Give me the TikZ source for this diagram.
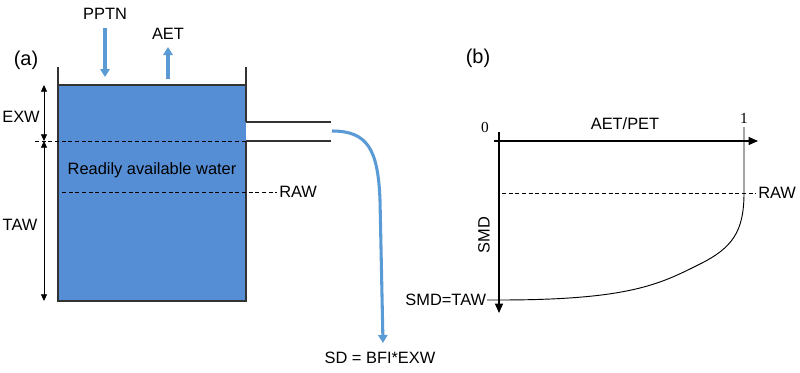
\documentclass[tikz,border=0pt]{standalone}
\usepackage{fontspec}
\setmainfont{Liberation Sans}
\newfontfamily\NumFont{Liberation Serif}
\usetikzlibrary{arrows.meta, positioning}
\definecolor{TankBlue}{HTML}{558ED5}
\definecolor{FlowBlue}{HTML}{5B9BD5}
\definecolor{EdgeGray}{HTML}{333333}
\newcommand{\LabelFont}{\fontsize{12.3pt}{14pt}\selectfont}
\newcommand{\PanelFont}{\fontsize{15pt}{17pt}\selectfont}

\begin{document}
\begin{tikzpicture}[x=0.75pt, y=-0.75pt, font=\LabelFont,
  flow/.style={FlowBlue, line width=2.3pt, -{Triangle[width=7pt,length=6pt]}},
  wall/.style={EdgeGray, line width=0.9pt},
  level/.style={black, line width=0.6pt, dash pattern=on 3pt off 2pt},
  dimline/.style={black, line width=0.6pt, {Triangle[width=4.5pt,length=5pt]}-{Triangle[width=4.5pt,length=5pt]}},
  axis/.style={black, line width=0.8pt, -{Triangle[width=6pt,length=7pt]}}]
  \useasboundingbox (0,0) rectangle (800,372);

  % (a) bucket
  \fill[TankBlue] (58,85) rectangle (246,301);
  \draw[wall] (58,67) -- (58,301) -- (246,301) -- (246,141);
  \draw[wall] (58,85) -- (246,85);
  \draw[wall] (246,122) -- (246,67);
  \node[font=\PanelFont] (lblA) at (26,60) {(a)};

  % inflow and outflow at the top
  \node (pptn) at (105,14) {PPTN};
  \coordinate (pptnS) at (105,28);
  \coordinate (pptnE) at (105,77);
  \draw[flow] (pptnS) -- (pptnE);
  \node (aet) at (168,34) {AET};
  \coordinate (aetS) at (168,79);
  \coordinate (aetE) at (168,47);
  \draw[flow] (aetS) -- (aetE);

  % outlet pipe
  \coordinate (pipeT) at (246,122);
  \coordinate (pipeB) at (246,141);
  \draw[wall] (pipeT) -- ++(85,0);
  \draw[wall] (pipeB) -- ++(85,0);
  \coordinate (spout) at (332,131);
  \coordinate (bend) at (380,200);
  \coordinate (sdEnd) at (383,343);
  \draw[flow] (spout) .. controls (368,131) and (378,150) .. (bend) -- (sdEnd);
  \node (sd) at (380,358) {SD = BFI*EXW};

  % levels
  \coordinate (exwL) at (35,141);
  \draw[level] (exwL) -- (pipeB);
  \coordinate (rawL) at (62,192);
  \coordinate (rawR) at (277,192);
  \draw[level] (rawL) -- (rawR);
  \node[anchor=west, inner sep=1.5pt] (rawA) at (rawR) {RAW};
  \node (water) at (152,170) {Readily available water};

  % depth markers
  \coordinate (dTop) at (44,85);
  \coordinate (dMid) at (44,141);
  \coordinate (dBot) at (44,301);
  \draw[dimline] (dTop) -- (dMid);
  \draw[dimline] (dMid) -- (dBot);
  \node (exw) at (21,117) {EXW};
  \node (taw) at (20,225) {TAW};

  % (b) AET/PET against SMD
  \node[font=\PanelFont] (lblB) at (478,58) {(b)};
  \coordinate (vTop) at (499,132);
  \coordinate (vEnd) at (499,313);
  \coordinate (hBeg) at (494,141);
  \coordinate (hEnd) at (758,141);
  \draw[axis] (vTop) -- (vEnd);
  \draw[axis] (hBeg) -- (hEnd);
  \node[font=\NumFont\fontsize{11.5pt}{12pt}\selectfont] (zero) at (485,127) {0};
  \node[font=\NumFont\fontsize{11.5pt}{12pt}\selectfont] (one) at (744,118) {1};
  \node (ratio) at (625,124) {AET/PET};
  \node[rotate=90] (smd) at (484,235) {SMD};

  \coordinate (oneTop) at (744,127);
  \coordinate (rawPt) at (744,193);
  \coordinate (tawPt) at (499,300);
  \coordinate (tawTick) at (487,300);
  \draw[black, line width=0.7pt] (oneTop) -- (rawPt)
    .. controls (744,232) and (732,248) .. (700,264)
    .. controls (660,284) and (630,300) .. (tawPt) -- (tawTick);
  \coordinate (rawB) at (502,193);
  \coordinate (rawBR) at (756,193);
  \draw[level] (rawB) -- (rawBR);
  \node[anchor=west, inner sep=1.5pt] (rawBlbl) at (rawBR) {RAW};
  \node[anchor=east, inner sep=0.5pt] (smdtaw) at (tawTick) {SMD=TAW};
\end{tikzpicture}
\end{document}
